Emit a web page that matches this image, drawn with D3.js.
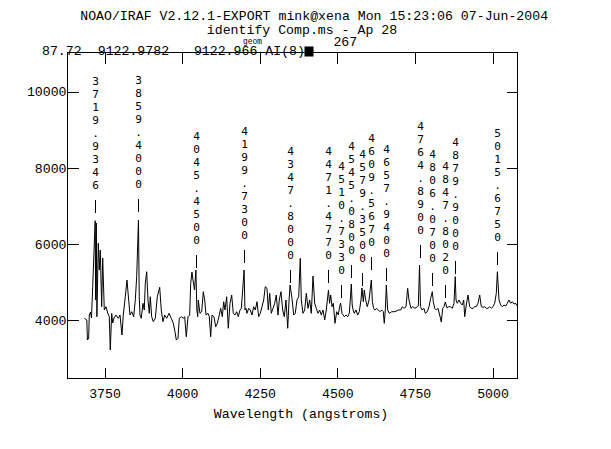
<!DOCTYPE html>
<html><head><meta charset="utf-8">
<script src="https://cdn.jsdelivr.net/npm/d3@7"></script>
<style>
html,body{margin:0;padding:0;background:#fff;}
svg{display:block;}
text{font-family:"Liberation Mono","DejaVu Sans Mono",monospace;font-size:13.2px;fill:#000;}
text.lab{font-family:"DejaVu Sans Mono",monospace;font-size:11.1px;}
</style></head><body>
<svg id="c" width="611" height="449"></svg>
<script>
// ---- data ----
const wavelength = [
3685,3693,3695,3699,3701,3705,3708,3712,3719.9,3721.5,3723.5,3725.5,3730,3733.2,3736.4,3740.9,3744.2,3749.3,3754.8,3760.3,
3765.4,3768.6,3773.2,3776.4,3780.6,3787,3794.4,3799.9,3806.3,3810.5,3817,3822.4,3827.9,3832.1,3837.6,3844,3849.2,3853.7,3859.4,3861.9,
3864.3,3868.5,3874,3878.2,3881.4,3885.9,3890.1,3894.3,3897.5,3902,3907.2,3913.6,
3920.1,3927.8,3932.9,3938.4,3943.9,3950.3,3957.8,3965.2,3971.6,3977.1,3981.3,3986.7,3990.9,3997.4,4003.8,4008.3,4013.5,4019,4024.4,4027.7,
4031.8,4035.1,4040,4044.5,4047.5,4050.4,4052.1,4057.6,4063.1,4068.3,4072.8,4077,4083.4,4087.6,4092.1,4096.3,4102.7,4108.2,4113.3,4119.8,
4124.3,4129.5,4134,4138.1,4143.6,4148.8,4154.3,4159.7,4164.9,4170.4,4175.9,4181,4186.5,4190.7,4195.2,4199.7,4202.5,
4205.8,4209,4214.5,4219.7,4225.1,4230.6,4235.8,4241.3,4246.7,4251.9,4257.4,4262.8,4268,4273.5,4277.7,4282.2,4287.3,4292.8,4298.3,4303.4,
4308.9,4313.1,4318.6,4324,4329.2,4334.7,4340.2,4344.3,4347.8,4354,4359.5,4364.6,4370.1,4375.6,4380.7,4384,4389.4,4394.9,4400.1,4405.6,
4411,4416.2,4421.7,4427.1,4432.3,4437.8,4443.2,4448.4,4453.9,4459.4,4464.5,4471.5,4475,4478.7,4482.9,4487.1,4492.5,4498,4503.2,4507.5,
4510.7,4515,4522.5,4528,4533.4,4538.6,4541.8,4545.1,4548,4551,4554.7,4560.2,4565.7,4570.8,4576.3,4579.4,4583.7,4586.9,4591.4,4596.6,
4602.1,4609.6,4613,4617,4621.4,4626.9,4632,4637.5,4643,4648.1,4651.3,4655,4657.9,4662.3,4667.5,4675.2,4685.8,4696.4,4704.2,4709.3,
4714.8,4721.3,4726.7,4730.9,4737.4,4742.9,4750.3,4757.7,4761,4764.9,4768,
4772.8,4779.2,4783.4,4789.9,4795.4,4800.8,4806.1,4809.2,4813.7,4818.9,4824.4,4829.8,4835,4839.5,4843.7,4847.8,4853.4,4858.8,4864,4870.4,
4875.9,4879.9,4882.5,4886.5,4892,4897.5,4902.7,4907.2,4910.4,4915.5,4921,4926.5,4931.6,4937.1,4942.6,4947.7,4953.2,4958.7,4963.9,4969.3,
4974.8,4980,4985.4,4990.9,4996.1,5001.6,5007,5012.2,5015.7,5020.9,5026.4,5031.5,5037,5042.5,5047.6,5053.1,5058.6,5063.7,5069.2,5074.7,5079.8
];
const flux = [
4045,4000,3474,3527,4131,4210,4053,4875,6610,4526,6549,4087,6016,5314,5840,4350,5629,4263,4350,4184,
4087,3212,4176,3921,4053,4131,4045,4131,3606,4131,4612,5051,4526,4131,4218,4087,4526,5138,6628,4612,
4131,4045,4439,4263,4964,5269,4526,4176,4612,4087,3955,4045,
4612,4859,4263,3955,4131,4045,4176,4045,3913,3693,3474,3519,4045,4087,4045,4087,3561,4087,4131,4964,
5261,5051,4790,5314,4263,4087,4526,4176,4218,4744,4526,4131,4176,4087,3561,4131,4087,3824,3913,4131,
4307,4087,4481,4263,4612,3782,4439,4657,4176,4131,4218,4087,4263,4307,4788,5314,4263,
4307,4176,4307,4263,4131,4350,4263,4481,4087,4176,4350,4526,4875,4833,4263,4702,4176,4307,4439,4657,
4131,4526,4744,4263,4087,4526,3782,4481,4920,4570,4131,4176,4526,4612,5621,4526,4176,4263,4702,4307,
4526,4176,5156,4439,4307,4176,4263,4131,4263,4000,4263,4788,4439,4657,4350,4439,3913,4218,4131,4350,
4447,4176,4087,4131,4087,4176,4526,4946,4394,4263,4176,4263,4131,4218,4526,4841,4481,4788,4526,4350,
4526,5051,4481,4307,4263,4307,4263,4218,4263,4218,3913,4307,4920,4263,4176,4218,4218,4263,4263,4350,
4307,4350,4833,4526,4307,4350,4307,4350,4368,5445,4350,
4263,4307,4176,4218,4350,4570,4744,4481,4307,4263,4307,4131,3947,4307,4350,4473,4315,4350,4350,4307,
4439,5138,4526,4439,4526,4439,4394,4526,4087,4394,4657,4350,4307,4307,4350,4350,4439,4657,4350,4334,
4350,4307,4307,4350,4307,4350,4439,4702,5269,4526,4394,4350,4394,4368,4439,4526,4439,4481,4420,4439,4368
];
const lineWavelengths = [3719.9346,3859.4,4045.45,4199.73,4347.8,4471.477,4510.733,4545.08,4579.35,4609.567,4657.94,4764.89,4806.07,4847.802,4879.9,5015.675];
const lineLabels = ["3719.9346","3859.4000","4045.4500","4199.7300","4347.8000","4471.4770","4510.7330","4545.0800","4579.3500","4609.5670","4657.9400","4764.8900","4806.0700","4847.8020","4879.9000","5015.6750"];
const labelLevels = [6810,6840,5370,5500,4970,4970,4580,5100,4890,5310,5030,5630,4890,4580,5210,5450];
const xTicks = [3750,4000,4250,4500,4750,5000];
const yTicks = [4000,6000,8000,10000];
const titleLines = ["NOAO/IRAF V2.12.1-EXPORT mink@xena Mon 15:23:06 07-Jun-2004","identify Comp.ms - Ap 28"];
const statusItems = ["87.72","9122.9782","9122.966 AI(8)"];
const statusExtra = ["geom","267"];
const xLabel = "Wavelength (angstroms)";

// ---- layout ----
const L=67.5,R=517.5,T=52.5,B=378.5;
const x = d3.scaleLinear().domain([3630.8,5080.5]).range([L,R]);
const y = d3.scaleLinear().domain([2463,11030]).range([B,T]);
const svg = d3.select("#c");
const CH = 7.93;

// titles
svg.append("text").attr("x",80.2).attr("y",19.5).attr("textLength",titleLines[0].length*CH).attr("lengthAdjust","spacing").text(titleLines[0]);
svg.append("text").attr("x",206.8).attr("y",33.5).attr("textLength",titleLines[1].length*CH).attr("lengthAdjust","spacing").text(titleLines[1]);
const sx=[42,97.7,193.9];
statusItems.forEach((s,i)=>svg.append("text").attr("x",sx[i]).attr("y",55.2).attr("textLength",s.length*CH).attr("lengthAdjust","spacing").text(s));
svg.append("text").attr("x",243).attr("y",43.5).style("font-size","9.5px").attr("textLength",19).attr("lengthAdjust","spacingAndGlyphs").text(statusExtra[0]);
svg.append("text").attr("x",333.4).attr("y",45.7).text(statusExtra[1]);
svg.append("rect").attr("x",304.5).attr("y",46.5).attr("width",9).attr("height",10).attr("fill","#000");

// axes
function clean(g){g.attr("font-family",null).attr("font-size",null);g.select(".domain").remove();g.selectAll("line").attr("stroke","#000").attr("shape-rendering","crispEdges");}
const gb = svg.append("g").attr("transform",`translate(0,${B})`).call(d3.axisBottom(x).tickValues(xTicks).tickSize(-11).tickSizeOuter(0).tickFormat(d3.format("d")));
clean(gb); gb.selectAll("text").attr("y",19.2).attr("dy",null);
const gt = svg.append("g").attr("transform",`translate(0,${T})`).call(d3.axisTop(x).tickValues(xTicks).tickSize(-11).tickSizeOuter(0).tickFormat(""));
clean(gt);
const gl = svg.append("g").attr("transform",`translate(${L},0)`).call(d3.axisLeft(y).tickValues(yTicks).tickSize(-11).tickSizeOuter(0).tickPadding(1).tickFormat(d3.format("d")));
clean(gl); gl.selectAll("text").attr("dy","0.32em");
const gr = svg.append("g").attr("transform",`translate(${R},0)`).call(d3.axisRight(y).tickValues(yTicks).tickSize(-11).tickSizeOuter(0).tickFormat(""));
clean(gr);
svg.append("rect").attr("x",L).attr("y",T).attr("width",R-L).attr("height",B-T).attr("fill","none").attr("stroke","#000").attr("shape-rendering","crispEdges");

svg.append("text").attr("x",213.8).attr("y",418.3).attr("textLength",xLabel.length*CH).attr("lengthAdjust","spacing").text(xLabel);

// spectrum
const pts = wavelength.map((w,i)=>[w,flux[i]]);
svg.append("path").datum(pts).attr("fill","none").attr("stroke","#000").attr("stroke-width",1)
  .attr("d",d3.line().x(d=>x(d[0])).y(d=>y(d[1])));

// line identifications: one vertical text column per feature
lineWavelengths.forEach((w,i)=>{
  const cx = Math.round(x(w))+0.5, yb = y(labelLevels[i]);
  const g = svg.append("g");
  g.append("line").attr("x1",cx).attr("x2",cx).attr("y1",yb-13).attr("y2",yb).attr("stroke","#000").attr("shape-rendering","crispEdges");
  const s = lineLabels[i], n = s.length;
  const t = g.append("text").attr("class","lab").attr("x",cx).attr("y",yb-24-(n-1)*13).attr("text-anchor","middle");
  s.split("").forEach((ch,j)=>{
    t.append("tspan").attr("x",cx).attr("dy",j===0?0:13).text(ch);
  });
});
</script>
</body></html>
